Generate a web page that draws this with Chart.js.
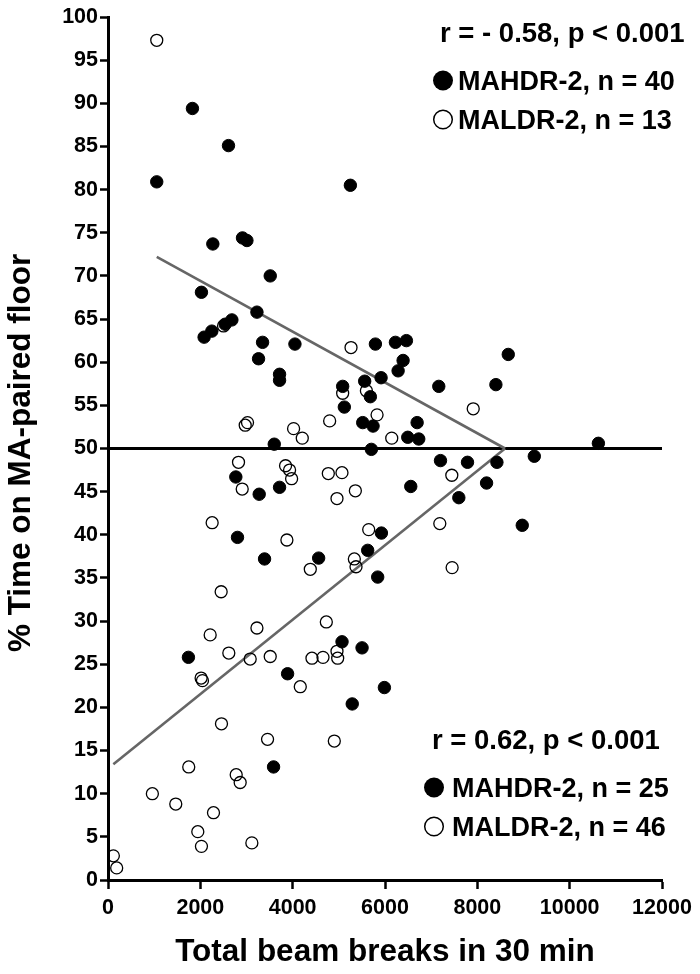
<!DOCTYPE html>
<html>
<head>
<meta charset="utf-8">
<script src="https://cdn.jsdelivr.net/npm/chart.js"></script>
<style>
  body { margin: 0; background: #fff; }
  #grafica { display: block; }
</style>
</head>
<body>
<canvas id="grafica" width="700" height="974"></canvas>
<script>
// MAHDR-2 (filled) points
const mahdrX = [1829, 2610, 1056, 5250, 2271, 2913, 3009, 3514, 2024, 3226,
  2082, 2249, 2538, 2683, 3348, 3261, 4049, 3716, 3716, 5083,
  5119, 3601, 5792, 6226, 6464, 6392, 6284, 5915, 5560, 5683,
  7165, 8402, 8670, 5517, 5741, 6696, 6493, 6731, 5705, 10622,
  2769, 3275, 3716, 2805, 3391, 4563, 9234, 7202, 7787, 8424,
  6558, 8200, 7599, 8973, 5922, 5625, 5842, 1742, 3890, 5069,
  5290, 3586, 5503, 5987];
const mahdrY = [89.4, 85.1, 80.9, 80.5, 73.7, 74.4, 74.1, 70.0, 68.1, 65.8,
  62.9, 63.6, 64.4, 64.9, 62.3, 60.4, 62.1, 58.6, 57.9, 57.2,
  54.8, 50.5, 62.1, 62.3, 62.5, 60.2, 59.0, 58.2, 57.8, 56.0,
  57.2, 57.4, 60.9, 53.0, 52.6, 53.0, 51.3, 51.1, 49.9, 50.6,
  46.7, 44.7, 45.5, 39.7, 37.2, 37.3, 49.1, 48.6, 48.4, 48.4,
  45.6, 46.0, 44.3, 41.1, 40.2, 38.2, 35.1, 25.8, 23.9, 27.6,
  20.4, 13.1, 26.9, 22.3];

// MALDR-2 (open) points
const maldrX = [1056, 2502, 5083, 5264, 2972, 3022, 4801, 4020, 4208, 5597,
  7911, 5828, 6146,
  2827, 2907, 3846, 3933, 3977, 4772, 5068, 4960, 5358, 2256,
  3875, 4382, 2451, 3226, 4729, 2213, 7447, 7187, 5647, 5336,
  5372, 7454, 2617, 3080, 3514, 2017, 2046, 4165, 4418, 4657,
  4960, 4975, 2458, 3456, 4902, 1749, 2777, 2863, 961, 1468,
  2285, 1945, 2024, 3116, 116, 188];
const maldrY = [97.3, 64.2, 56.4, 61.7, 52.7, 53.0, 53.2, 52.3, 51.2, 56.7,
  54.6, 53.9, 51.2,
  48.4, 45.3, 48.0, 47.5, 46.5, 47.1, 47.2, 44.2, 45.1, 41.4,
  39.4, 36.0, 33.4, 29.2, 29.9, 28.4, 46.9, 41.3, 40.6, 37.2,
  36.3, 36.2, 26.3, 25.6, 25.9, 23.4, 23.1, 22.4, 25.7, 25.8,
  26.5, 25.7, 18.1, 16.3, 16.1, 13.1, 12.2, 11.3, 10.0, 8.8,
  7.8, 5.6, 3.9, 4.3, 2.8, 1.4];

// regression lines and the 50% line
const upperFitX = [1056, 8600];
const upperFitY = [72.2, 50];
const lowerFitX = [116, 8600];
const lowerFitY = [13.4, 50];
const refX = [0, 12000];
const refY = [50, 50];

const xTicks = [0, 2000, 4000, 6000, 8000, 10000, 12000];
const yTicks = [0, 5, 10, 15, 20, 25, 30, 35, 40, 45, 50, 55, 60, 65, 70, 75, 80, 85, 90, 95, 100];

const upperLegend = ["r = - 0.58, p < 0.001", "MAHDR-2, n = 40", "MALDR-2, n = 13"];
const lowerLegend = ["r = 0.62, p < 0.001", "MAHDR-2, n = 25", "MALDR-2, n = 46"];

const fuente = '"Liberation Sans", Arial, sans-serif';

const puntos = (xs, ys) => xs.map((x, i) => ({ x: x, y: ys[i] }));

// text boxes drawn straight onto the canvas
const textos = {
  id: "textos",
  afterDraw(chart) {
    const ctx = chart.ctx;
    ctx.save();
    ctx.fillStyle = "#000";
    ctx.textBaseline = "alphabetic";
    ctx.textAlign = "left";

    const bloque = (lineas, xr, yr, xm, xt, y1, y2) => {
      ctx.font = "bold 27.5px " + fuente;
      ctx.fillText(lineas[0], xr, yr);
      ctx.font = "bold 27px " + fuente;
      ctx.fillText(lineas[1], xt, y1);
      ctx.fillText(lineas[2], xt, y2);
      ctx.beginPath();
      ctx.arc(xm, y1 - 9.5, 10, 0, Math.PI * 2);
      ctx.fillStyle = "#000";
      ctx.fill();
      ctx.beginPath();
      ctx.arc(xm, y2 - 9.5, 9.3, 0, Math.PI * 2);
      ctx.lineWidth = 1.5;
      ctx.strokeStyle = "#000";
      ctx.stroke();
    };
    bloque(upperLegend, 440, 42, 443, 458, 90, 129);
    bloque(lowerLegend, 432, 749, 434, 452, 797, 836);
    ctx.restore();
  }
};

const grafica = document.getElementById("grafica");
const myChart = new Chart(grafica, {
  type: "scatter",
  data: {
    datasets: [
      {
        label: "MAHDR-2",
        data: puntos(mahdrX, mahdrY),
        backgroundColor: "#000",
        borderColor: "#000",
        pointRadius: 6.2,
        borderWidth: 1,
        order: 1
      },
      {
        label: "MALDR-2",
        data: puntos(maldrX, maldrY),
        backgroundColor: "rgba(255,255,255,0)",
        borderColor: "#000",
        pointRadius: 6,
        borderWidth: 1.3,
        order: 2
      },
      {
        label: "fit up",
        data: puntos(upperFitX, upperFitY),
        showLine: true,
        borderColor: "#666",
        borderWidth: 2.6,
        pointRadius: 0,
        order: 3
      },
      {
        label: "fit down",
        data: puntos(lowerFitX, lowerFitY),
        showLine: true,
        borderColor: "#666",
        borderWidth: 2.6,
        pointRadius: 0,
        order: 3
      },
      {
        label: "50",
        data: puntos(refX, refY),
        showLine: true,
        borderColor: "#000",
        borderWidth: 2.8,
        pointRadius: 0,
        order: 4
      }
    ]
  },
  options: {
    responsive: false,
    animation: false,
    layout: { padding: { top: 17, right: 38, left: 0, bottom: 0 } },
    plugins: {
      legend: { display: false },
      tooltip: { enabled: false }
    },
    scales: {
      x: {
        type: "linear",
        position: "bottom",
        min: 0,
        max: 12000,
        afterBuildTicks: (s) => { s.ticks = xTicks.map((v) => ({ value: v })); },
        afterFit: (s) => { s.height = 94; },
        border: { display: true, color: "#000", width: 3 },
        grid: { drawOnChartArea: false, drawTicks: true, tickLength: 9, tickWidth: 2.5, tickColor: "#000" },
        ticks: {
          color: "#000",
          padding: 6,
          maxRotation: 0,
          font: { family: fuente, size: 21.5, weight: "bold" },
          callback: (v) => String(v)
        },
        title: {
          display: true,
          text: "Total beam breaks in 30 min",
          color: "#000",
          padding: { top: 0, bottom: 3 },
          font: { family: fuente, size: 31.5, weight: "bold" }
        }
      },
      y: {
        type: "linear",
        min: 0,
        max: 100,
        afterBuildTicks: (s) => { s.ticks = yTicks.map((v) => ({ value: v })); },
        afterFit: (s) => { s.width = 108; },
        border: { display: true, color: "#000", width: 3 },
        grid: { drawOnChartArea: false, drawTicks: true, tickLength: 8, tickWidth: 2.5, tickColor: "#000" },
        ticks: {
          color: "#000",
          padding: 2,
          font: { family: fuente, size: 21.5, weight: "bold" },
          callback: (v) => String(v)
        },
        title: {
          display: true,
          text: "% Time on MA-paired floor ",
          color: "#000",
          padding: { top: 2.5, bottom: 0 },
          font: { family: fuente, size: 31.5, weight: "bold" }
        }
      }
    }
  },
  plugins: [textos]
});
</script>
</body>
</html>
